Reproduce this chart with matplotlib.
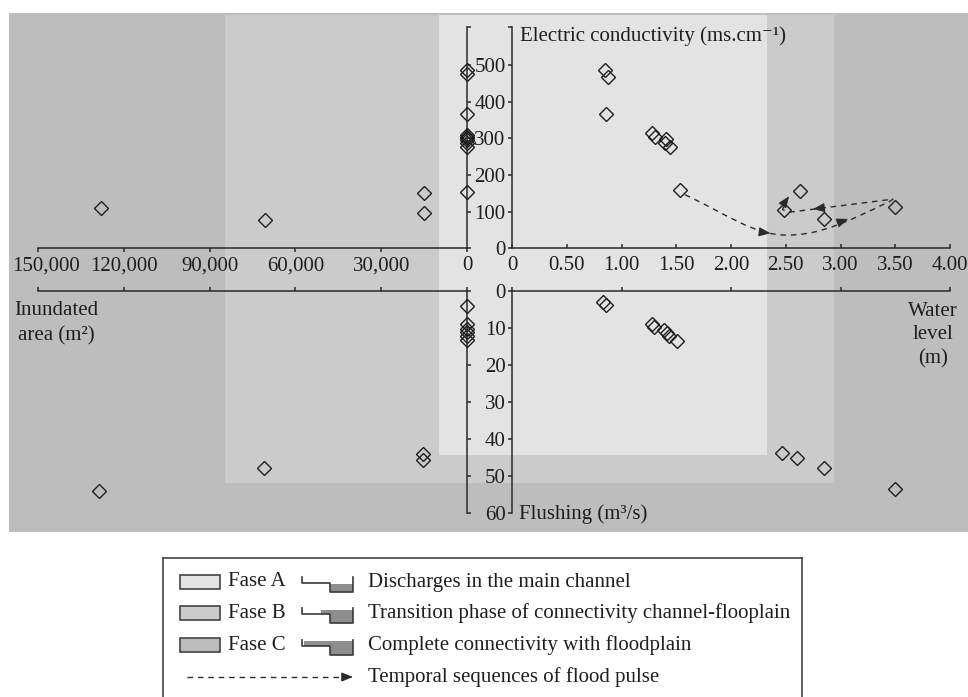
import matplotlib.pyplot as plt
from matplotlib.patches import Rectangle, Polygon, PathPatch
from matplotlib.path import Path
from matplotlib.ticker import FuncFormatter, FixedLocator
from matplotlib import transforms

plt.rcParams['font.family'] = ['Liberation Serif', 'DejaVu Serif']
plt.rcParams['font.size'] = 15

# ---- data ----
# inundated area (m2) vs electric conductivity
area_ec_x = [128000, 70500, 14900, 14900, 0, 0, 0, 0, 0, 0, 0, 0, 0, 0]
area_ec_y = [109, 77, 152, 97, 486, 475, 366, 309, 304, 300, 296, 286, 277, 154]
# water level (m) vs electric conductivity
level_ec_x = [0.85, 0.88, 0.86, 1.28, 1.31, 1.41, 1.40, 1.44, 1.53, 2.48, 2.63, 2.85, 3.50]
level_ec_y = [486, 468, 366, 314, 303, 297, 288, 277, 158, 103, 155, 81, 112]
# inundated area vs flushing (m3/s)
area_fl_x = [128800, 71000, 15300, 15300, 0, 0, 0, 0, 0, 0]
area_fl_y = [54.0, 47.7, 44.0, 45.6, 4.0, 8.9, 10.3, 11.2, 12.1, 13.2]
# water level vs flushing
level_fl_x = [0.83, 0.86, 1.28, 1.30, 1.39, 1.42, 1.43, 1.51, 2.47, 2.60, 2.85, 3.50]
level_fl_y = [2.9, 3.8, 8.9, 9.6, 10.5, 11.4, 12.1, 13.4, 43.8, 45.2, 47.7, 53.5]

area_ticks = [150000, 120000, 90000, 60000, 30000, 0]
level_ticks = [0, 0.5, 1.0, 1.5, 2.0, 2.5, 3.0, 3.5, 4.0]
level_ticks_low = [0, 1, 2, 3, 4]
ec_ticks = [0, 100, 200, 300, 400, 500]
fl_ticks = [0, 10, 20, 30, 40, 50, 60]

# flood pulse path (water level, EC) and arrow heads
pulse_wl = [1.58, 1.95, 2.20, 2.50, 2.80, 3.05, 3.45, 3.48, 2.55, 2.47, 2.50]
pulse_ec = [146, 95, 37, 36, 35, 70, 128, 134, 99, 105, 128]
pulse_codes = [Path.MOVETO, Path.CURVE4, Path.CURVE4, Path.CURVE4, Path.CURVE4,
               Path.CURVE4, Path.CURVE4, Path.LINETO, Path.LINETO, Path.LINETO,
               Path.LINETO]
arrow_from = [(2.28, 44), (2.98, 70), (2.86, 111), (2.49, 125)]
arrow_to = [(2.36, 41), (3.07, 80), (2.75, 107), (2.53, 142)]

phases = ['Fase A', 'Fase B', 'Fase C']
phase_colors = ['#e2e3e2', '#cbcbcb', '#bdbdbd']
phase_desc = ['Discharges in the main channel',
              'Transition phase of connectivity channel-flooplain',
              'Complete connectivity with floodplain']
pulse_desc = 'Temporal sequences of flood pulse'

W, H = 968, 697
ink = '#2a2a2a'
fig = plt.figure(figsize=(W / 100, H / 100), dpi=100)


def px_axes(x0, y0, x1, y1):
    return fig.add_axes([x0 / W, 1 - y1 / H, (x1 - x0) / W, (y1 - y0) / H])


# background phase bands (pixel layout)
bg = fig.add_axes([0, 0, 1, 1])
bg.set_xlim(0, W)
bg.set_ylim(H, 0)
bg.axis('off')
bands = [(9, 13, 968, 532), (225, 15, 834, 483), (439, 15, 767, 455)]
for (x0, y0, x1, y1), c in zip(bands, phase_colors[::-1]):
    bg.add_patch(Rectangle((x0, y0), x1 - x0, y1 - y0, fc=c, ec='none'))

ax_tl = px_axes(38, 27, 467, 248.3)
ax_tr = px_axes(512, 27, 950, 248.3)
ax_bl = px_axes(38, 291, 467, 513.3)
ax_br = px_axes(512, 291, 950, 513.3)

for ax in [ax_tl, ax_tr, ax_bl, ax_br]:
    ax.patch.set_visible(False)
    for s in ax.spines.values():
        s.set_color(ink)
        s.set_linewidth(1.1)
    ax.tick_params(colors=ink, width=1.1, length=3.2, labelsize=15, labelcolor='#1e1e1e')
    ax.tick_params(which='minor', colors=ink, width=1.1, length=3.2)

tick_len = 3.2
mk = dict(marker='D', ms=7.6, mfc='none', mec='#1e1e1e', mew=1.0, ls='none', clip_on=False, zorder=5)

# top-left: area vs EC
ax_tl.set_xlim(150000, 0)
ax_tl.set_ylim(0, 603)
ax_tl.spines[['top', 'left']].set_visible(False)
ax_tl.set_xticks(area_ticks)
ax_tl.xaxis.set_major_formatter(FuncFormatter(lambda v, p: f'{int(v):,}'))
ax_tl.tick_params(axis='x', direction='out', pad=2.5)
ax_tl.yaxis.tick_right()
ax_tl.set_yticks(ec_ticks)
ax_tl.yaxis.set_minor_locator(FixedLocator([603]))
ax_tl.tick_params(axis='y', which='both', direction='out', labelright=False)
ax_tl.plot(area_ec_x, area_ec_y, **mk)
offset = transforms.ScaledTranslation(6 / 72, 0, fig.dpi_scale_trans)
first = ax_tl.xaxis.get_majorticklabels()[0]
first.set_transform(first.get_transform() + offset)

# top-right: water level vs EC
ax_tr.set_xlim(0, 4)
ax_tr.set_ylim(0, 603)
ax_tr.spines[['top', 'right']].set_visible(False)
ax_tr.set_xticks(level_ticks)
ax_tr.xaxis.set_major_formatter(FuncFormatter(lambda v, p: '0' if v == 0 else f'{v:.2f}'))
ax_tr.tick_params(axis='x', direction='in', pad=2.5 + tick_len)
ax_tr.xaxis.set_minor_locator(FixedLocator([4]))
ax_tr.tick_params(axis='x', which='minor', direction='out')
ax_tr.set_yticks(ec_ticks)
ax_tr.yaxis.set_minor_locator(FixedLocator([603]))
ax_tr.tick_params(axis='y', which='both', direction='out', pad=1.4)
ax_tr.plot(level_ec_x, level_ec_y, **mk)

pulse = Path(list(zip(pulse_wl, pulse_ec)), pulse_codes)
ax_tr.add_patch(PathPatch(pulse, fc='none', ec=ink, lw=1.0, ls=(0, (4, 3.5)), zorder=4))
for a, b in zip(arrow_from, arrow_to):
    ax_tr.annotate('', xy=b, xytext=a,
                   arrowprops=dict(arrowstyle='-|>,head_length=0.7,head_width=0.28',
                                   color=ink, lw=0.8, shrinkA=0, shrinkB=0,
                                   mutation_scale=10), zorder=6)

# bottom-left: area vs flushing
ax_bl.set_xlim(150000, 0)
ax_bl.set_ylim(60, 0)
ax_bl.spines[['bottom', 'left']].set_visible(False)
ax_bl.xaxis.tick_top()
ax_bl.set_xticks(area_ticks)
ax_bl.tick_params(axis='x', direction='out', labeltop=False)
ax_bl.yaxis.tick_right()
ax_bl.set_yticks(fl_ticks)
ax_bl.tick_params(axis='y', direction='out', labelright=False)
ax_bl.plot(area_fl_x, area_fl_y, **mk)

# bottom-right: water level vs flushing
ax_br.set_xlim(0, 4)
ax_br.set_ylim(60, 0)
ax_br.spines[['bottom', 'right']].set_visible(False)
ax_br.xaxis.tick_top()
ax_br.set_xticks(level_ticks_low)
ax_br.tick_params(axis='x', direction='out', labeltop=False)
ax_br.set_yticks(fl_ticks)
ax_br.tick_params(axis='y', direction='out', pad=1.4)
ax_br.plot(level_fl_x, level_fl_y, **mk)

# axis titles
tc = '#1e1e1e'
bg.text(520, 36, 'Electric conductivity (ms.cm\u207b\u00b9)', va='center', ha='left', color=tc)
bg.text(519, 514, 'Flushing (m\u00b3/s)', va='center', ha='left', color=tc)
bg.text(56, 323, 'Inundated\narea (m\u00b2)', va='center', ha='center', color=tc, linespacing=1.45)
bg.text(933, 335, 'Water\nlevel\n(m)', va='center', ha='center', color=tc, linespacing=1.32)

# legend box
leg = px_axes(163, 558, 802, 720)
leg.set_xlim(0, 639)
leg.set_ylim(162, 0)
leg.set_xticks([])
leg.set_yticks([])
leg.patch.set_facecolor('white')
for s in leg.spines.values():
    s.set_color('#444444')
    s.set_linewidth(1.2)
leg.spines['bottom'].set_visible(False)

rows = [24, 55, 87, 119]
water = '#8e8e8e'
icon_x0, icon_w = 139, 51
for i, (name, col, desc) in enumerate(zip(phases, phase_colors, phase_desc)):
    ry = rows[i]
    leg.add_patch(Rectangle((17, ry - 7), 40, 14, fc=col, ec='#444444', lw=1.2))
    leg.text(65, ry, name, va='center', ha='left', color=tc)
    leg.text(205, ry, desc, va='center', ha='left', color=tc)
    x0 = icon_x0
    xs = x0 + icon_w * 0.54
    x1 = x0 + icon_w
    top, fp, bot = ry - 5, ry + 1, ry + 10
    if i == 0:
        poly = [(xs, fp + 1), (x1, fp + 1), (x1, bot), (xs, bot)]
    elif i == 1:
        poly = [(x0 + icon_w * 0.37, top + 2), (x1, top + 2), (x1, bot), (xs, bot),
                (xs, fp), (x0 + icon_w * 0.37, fp)]
    else:
        poly = [(x0 + 2, top + 1), (x1, top + 1), (x1, bot), (xs, bot), (xs, fp), (x0 + 2, fp)]
    leg.add_patch(Polygon(poly, closed=True, fc=water, ec='none'))
    leg.plot([x0, x0, xs, xs, x1, x1], [top, fp, fp, bot, bot, top], color='#3a3a3a', lw=1.2)

ry = rows[3]
leg.plot([24, 182], [ry, ry], color=ink, lw=1.0, ls=(0, (4, 3.5)))
leg.annotate('', xy=(190, ry), xytext=(180, ry),
             arrowprops=dict(arrowstyle='-|>,head_length=0.7,head_width=0.28',
                             color=ink, lw=0.8, shrinkA=0, shrinkB=0, mutation_scale=10))
leg.text(205, ry, pulse_desc, va='center', ha='left', color=tc)

fig.savefig('out.png', dpi=100)
